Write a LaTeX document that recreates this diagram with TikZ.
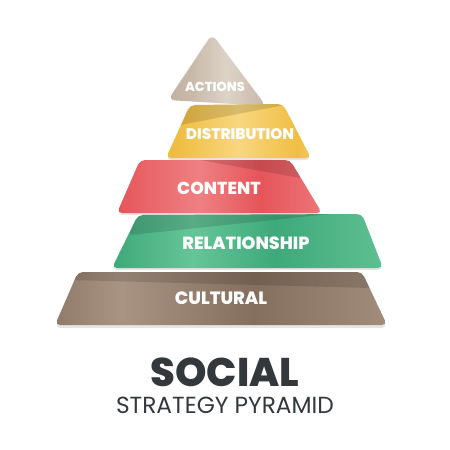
\documentclass[tikz,border=0pt]{standalone}
\usepackage{fontspec}
\setmainfont{Poppins}
\newfontfamily\heavy{Poppins ExtraBold}
\definecolor{txt}{HTML}{33383C}
\definecolor{aB}{HTML}{C6B7A7}\definecolor{aL}{HTML}{DED3C8}\definecolor{aD}{HTML}{B4A392}
\definecolor{dB}{HTML}{F0BE45}\definecolor{dL}{HTML}{F8D77E}\definecolor{dD}{HTML}{E5AC30}
\definecolor{cB}{HTML}{E5555A}\definecolor{cL}{HTML}{EF8082}\definecolor{cD}{HTML}{D7434A}
\definecolor{rB}{HTML}{3EA97A}\definecolor{rL}{HTML}{66C598}\definecolor{rD}{HTML}{2E9466}
\definecolor{uB}{HTML}{846E5D}\definecolor{uL}{HTML}{A99483}\definecolor{uD}{HTML}{715C4C}
\pgfdeclarehorizontalshading{ash}{100bp}{color(0bp)=(aD); color(35bp)=(aB); color(55bp)=(aL); color(75bp)=(aB); color(100bp)=(aL)}
\pgfdeclarehorizontalshading{dsh}{100bp}{color(0bp)=(dD); color(30bp)=(dB); color(50bp)=(dL); color(70bp)=(dB); color(85bp)=(dL); color(100bp)=(dB)}
\pgfdeclarehorizontalshading{csh}{100bp}{color(0bp)=(cD); color(25bp)=(cB); color(45bp)=(cL); color(60bp)=(cB); color(80bp)=(cL); color(100bp)=(cD)}
\pgfdeclarehorizontalshading{rsh}{100bp}{color(0bp)=(rD); color(25bp)=(rB); color(40bp)=(rL); color(55bp)=(rB); color(80bp)=(rL); color(100bp)=(rB)}
\pgfdeclarehorizontalshading{ush}{100bp}{color(0bp)=(uD); color(20bp)=(uB); color(35bp)=(uL); color(55bp)=(uB); color(80bp)=(uL); color(100bp)=(uB)}
\tikzset{
  lbl/.style={text=white,inner sep=0pt,anchor=center},
  slabshadow/.style={fill=black,opacity=0.10,rounded corners=5},
  band/.style={fill=black,opacity=0.13}
}
\def\pact{(212,34) -- (266,106) -- (168,100) -- cycle}
\def\pdis{(190,105) -- (283,104) -- (311,158) -- (166,158) -- cycle}
\def\pcon{(140,160) -- (290,160) -- (322,213) -- (117,213) -- cycle}
\def\prel{(138,215) -- (362,214) -- (383,268) -- (112,268) -- cycle}
\def\pcul{(78,272) -- (362,272) -- (387,325) -- (55,325) -- cycle}
\begin{document}
\begin{tikzpicture}[x=1pt,y=-1pt]
\useasboundingbox (0,0) rectangle (450,450);
\fill[white] (0,0) rectangle (450,450);
% actions
\shade[shading=ash,rounded corners=7] \pact;
% distribution
\fill[slabshadow,yshift=-2pt] \pdis;
\shade[shading=dsh,rounded corners=5] \pdis;
\begin{scope}\clip[rounded corners=5] \pdis;
\fill[band] (180,104) -- (290,104) -- (180,125) -- cycle;\end{scope}
% content
\fill[slabshadow,yshift=-2pt] \pcon;
\shade[shading=csh,rounded corners=5] \pcon;
\begin{scope}\clip[rounded corners=5] \pcon;
\fill[band] (200,160) -- (300,160) -- (300,178) -- cycle;\end{scope}
% relationship
\fill[slabshadow,yshift=-2pt] \prel;
\shade[shading=rsh,rounded corners=5] \prel;
\begin{scope}\clip[rounded corners=5] \prel;
\fill[band] (130,214) -- (330,214) -- (130,235) -- cycle;\end{scope}
% cultural
\fill[slabshadow,yshift=-3pt] \pcul;
\shade[shading=ush,rounded corners=5] \pcul;
\begin{scope}\clip[rounded corners=5] \pcul;
\fill[band] (70,272) -- (370,272) -- (370,288) -- (70,280) -- cycle;\end{scope}
% labels
\node[lbl,font=\heavy\fontsize{13}{13}\selectfont] (actions) at (215,87) {ACTIONS};
\node[lbl,font=\heavy\fontsize{15.3}{15.3}\selectfont] (distribution) at (240,134) {DISTRIBUTION};
\node[lbl,font=\heavy\fontsize{17.3}{17.3}\selectfont] (content) at (219,188) {CONTENT};
\node[lbl,font=\heavy\fontsize{17.6}{17.6}\selectfont] (relationship) at (246,243) {RELATIONSHIP};
\node[lbl,font=\heavy\fontsize{17.8}{17.8}\selectfont] (cultural) at (221,298) {CULTURAL};
\node[text=txt,inner sep=0pt,font=\heavy\fontsize{40}{40}\selectfont] (social) at (225,372) {SOCIAL};
\node[text=txt,inner sep=0pt,font=\fontsize{23.3}{23.3}\selectfont] (strategy) at (225,405) {STRATEGY PYRAMID};
\end{tikzpicture}
\end{document}
